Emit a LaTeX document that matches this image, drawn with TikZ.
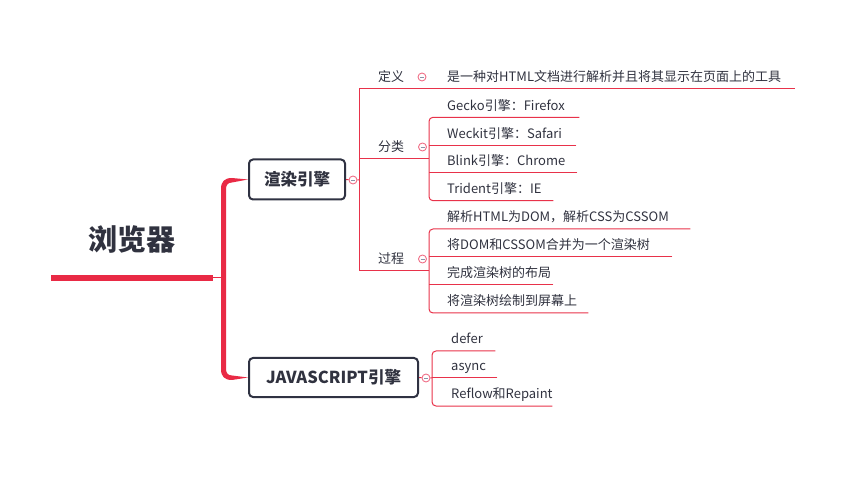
\documentclass[tikz,border=0pt]{standalone}
\usepackage{fontspec}
\setmainfont{Noto Sans CJK SC}
\usetikzlibrary{calc,backgrounds}
\definecolor{redc}{HTML}{E92A45}
\definecolor{linec}{HTML}{E8324A}
\definecolor{pinkc}{HTML}{F07088}
\definecolor{minc}{HTML}{8A93A8}
\definecolor{boxc}{HTML}{2F3242}
\definecolor{txt}{HTML}{30323F}
\tikzset{
 leaf/.style={anchor=south west, inner sep=0pt, text depth=7pt, text height=11pt, align=left, font=\fontsize{13}{15}\selectfont, text=txt},
 lbl/.style={anchor=base west, inner sep=0pt, font=\fontsize{13}{15}\selectfont, text=txt},
 topic/.style={draw=boxc, line width=2pt, rounded corners=4pt, fill=white, font=\fontsize{16.5}{20}\selectfont\bfseries, text=txt, inner sep=0pt},
 col/.style={circle, draw=pinkc, fill=white, line width=0.9pt, minimum size=8pt, inner sep=0pt,
   path picture={\draw[minc, line width=0.8pt] ([xshift=-2pt]path picture bounding box.center) -- ([xshift=2pt]path picture bounding box.center);}},
 conn/.style={draw=linec, line width=1pt},
}
\begin{document}
\begin{tikzpicture}[x=1pt,y=-1pt]
\useasboundingbox (0,0) rectangle (847,481);
% root
\node[font=\fontsize{29}{34}\selectfont\bfseries, text=txt, inner sep=0pt] (root) at (132,239) {浏览器};
\coordinate (rootL) at (51,278);
\coordinate (rootR) at (213,278);
\coordinate (barM) at (223.5,278);
% main topics
\node[topic, minimum width=96pt, minimum height=40pt] (r1) at (297,179.5) {渲染引擎};
\node[topic, minimum width=169pt, minimum height=39pt] (r2) at (333.5,377.5) {JAVASCRIPT引擎};
\node[col] (c1) at (353,180) {};
\node[col] (c2) at (426,378) {};
% level 2 labels
\node[lbl] (ldef) at (378,82) {定义};
\node[lbl] (lfl) at (378,152) {分类};
\node[lbl] (lgc) at (378,264) {过程};
\node[col] (cdef) at (422,77) {};
\node[col] (cfl) at (422.5,147) {};
\node[col] (cgc) at (422.5,259) {};
% leaves
\node[leaf, text width=348pt] (def) at (447,89) {\mbox{是一种对HTML文档进行解析并且将其显示在页面上的工具}};
\node[leaf, text width=132pt] (f1) at (447,117.3) {\mbox{Gecko引擎：Firefox}};
\node[leaf, text width=129pt] (f2) at (447,145.7) {\mbox{Weckit引擎：Safari}};
\node[leaf, text width=130pt] (f3) at (447,172.7) {\mbox{Blink引擎：Chrome}};
\node[leaf, text width=106pt] (f4) at (447,200.7) {\mbox{Trident引擎：IE}};
\node[leaf, text width=243pt] (g1) at (447,229) {\mbox{解析HTML为DOM，解析CSS为CSSOM}};
\node[leaf, text width=225pt] (g2) at (447,257) {\mbox{将DOM和CSSOM合并为一个渲染树}};
\node[leaf, text width=106pt] (g3) at (447,285) {\mbox{完成渲染树的布局}};
\node[leaf, text width=141pt] (g4) at (447,313) {\mbox{将渲染树绘制到屏幕上}};
\node[leaf, text width=44pt] (j1) at (451,351) {\mbox{defer}};
\node[leaf, text width=46pt] (j2) at (451,378) {\mbox{async}};
\node[leaf, text width=101pt] (j3) at (451,406) {\mbox{Reflow和Repaint}};
% junction coordinates
\coordinate (v1t) at (359,89);
\coordinate (v1b) at (359,271);
\coordinate (bk2) at (429,159);
\coordinate (bk3) at (429,271);
\coordinate (bkj) at (432,378);
\begin{pgfonlayer}{background}
% root line and bar
\draw[redc, line width=5.7pt] (rootL) -- (rootR);
\draw[redc, line width=1pt] (rootR) -- (barM);
\fill[redc] (r1.west) -- (232,178) .. controls (224.5,178) and (221,181.5) .. (221,189)
  -- (221,369) .. controls (221,376.5) and (224.5,380) .. (232,380) -- (r2.west)
  -- (232,375.5) .. controls (228,375.5) and (226,373) .. (226,369)
  -- (226,189) .. controls (226,185) and (228,182.5) .. (232,182.5) -- cycle;
% level 1 connectors
\draw[conn] (r1.east) -- (c1) -- (c1 -| v1t);
\draw[conn] (v1t) -- (v1b);
\draw[conn] (v1t) -- (def.south east);
\draw[conn] (bk2 -| v1t) -- (bk2);
\draw[conn] (v1b) -- (bk3);
\draw[conn, rounded corners=4pt] (f1.south east) -| (bk2) |- (f4.south east);
\draw[conn] (f2.south east) -- (f2.south east -| bk2);
\draw[conn] (f3.south east) -- (f3.south east -| bk2);
\draw[conn, rounded corners=4pt] (g1.south east) -| (bk3) |- (g4.south east);
\draw[conn] (g2.south east) -- (g2.south east -| bk3);
\draw[conn] (g3.south east) -- (g3.south east -| bk3);
\draw[conn] (r2.east) -- (c2) -- (bkj);
\draw[conn, rounded corners=4pt] (j1.south east) -| (bkj) |- (j3.south east);
\draw[conn] (j2.south east) -- (bkj);
\end{pgfonlayer}
\end{tikzpicture}
\end{document}
